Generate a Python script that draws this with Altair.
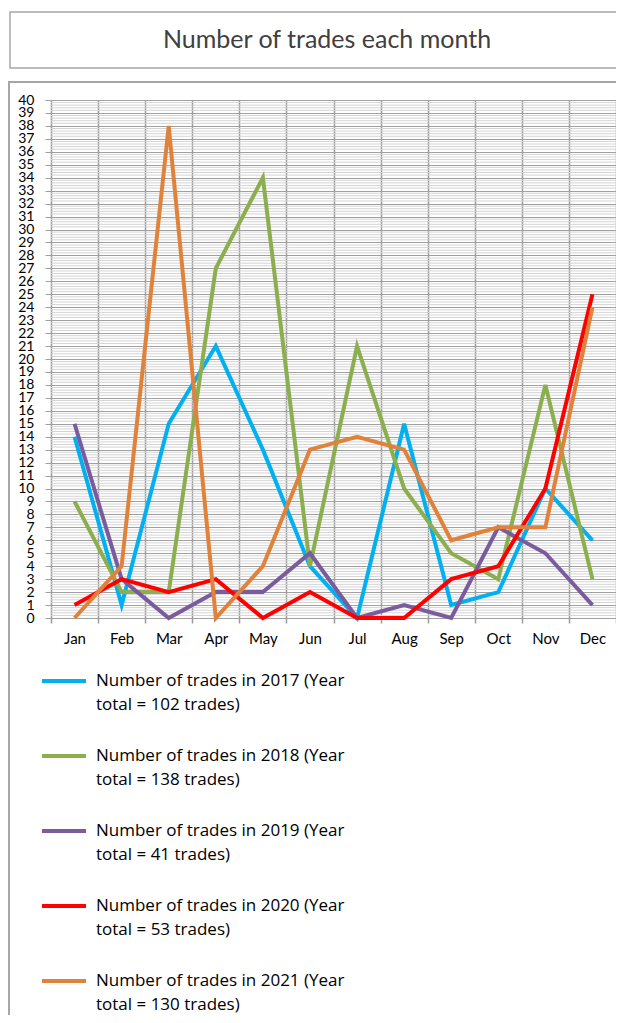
import altair as alt
import pandas as pd

months = ["Jan", "Feb", "Mar", "Apr", "May", "Jun", "Jul", "Aug", "Sep", "Oct", "Nov", "Dec"]
trades_2017 = [14, 1, 15, 21, 13, 4, 0, 15, 1, 2, 10, 6]
trades_2018 = [9, 2, 2, 27, 34, 4, 21, 10, 5, 3, 18, 3]
trades_2019 = [15, 3, 0, 2, 2, 5, 0, 1, 0, 7, 5, 1]
trades_2020 = [1, 3, 2, 3, 0, 2, 0, 0, 3, 4, 10, 25]
trades_2021 = [0, 4, 38, 0, 4, 13, 14, 13, 6, 7, 7, 24]
series_labels = [
    "Number of trades in 2017 (Year|total = 102 trades)",
    "Number of trades in 2018 (Year|total = 138 trades)",
    "Number of trades in 2019 (Year|total = 41 trades)",
    "Number of trades in 2020 (Year|total = 53 trades)",
    "Number of trades in 2021 (Year|total = 130 trades)",
]
series_colors = ["#00B0F0", "#8BAE4E", "#7A5C9E", "#FF0000", "#E0823A"]
title_text = "Number of trades each month"
y_ticks = list(range(0, 41))

rows = []
for lab, vals in zip(series_labels, [trades_2017, trades_2018, trades_2019, trades_2020, trades_2021]):
    for m, v in zip(months, vals):
        rows.append({"month": m, "trades": v, "series": lab})
df = pd.DataFrame(rows)

W, H = 565, 518
LABEL_DY = 5

x_enc = alt.X(
    "month:N", sort=months, bandPosition=0.5,
    scale=alt.Scale(type="band", domain=months, paddingInner=0, paddingOuter=0),
    axis=alt.Axis(title=None, labelAngle=0, tickBand="extent", grid=True,
                  gridColor="#9a9a9a", gridWidth=1.5, tickColor="#9a9a9a",
                  tickSize=5, tickWidth=1.5, domain=False, labelFont="Lato",
                  labelFontSize=15, labelColor="#000000", labelPadding=8 - LABEL_DY),
)
y_scale = alt.Scale(domain=[0, 40], nice=False)
y_axis = alt.Axis(title=None, values=y_ticks, grid=True, gridColor="#a0a0a0",
                  gridWidth=1, tickColor="#a0a0a0", tickSize=6, domain=False,
                  labelOverlap=False, labelFont="Lato", labelFontSize=14,
                  labelColor="#000000", labelPadding=11, labelBound=False,
                  labelOffset=-LABEL_DY)

# minor gridlines (decoration)
minor_vals = [i / 5 for i in range(0, 201) if i % 5 != 0]
minor = alt.Chart(pd.DataFrame({"v": minor_vals})).mark_rule(
    color="#d4d4d4", strokeWidth=1
).encode(y=alt.Y("v:Q", scale=y_scale, axis=y_axis))

lines = alt.Chart(df).mark_line(strokeWidth=4, strokeCap="butt", strokeJoin="miter").encode(
    x=x_enc,
    y=alt.Y("trades:Q", scale=y_scale, axis=y_axis),
    color=alt.Color("series:N", sort=series_labels,
                    scale=alt.Scale(domain=series_labels, range=series_colors),
                    legend=alt.Legend(
                        title=None, orient="none", legendX=-11, legendY=557,
                        direction="vertical", symbolType="stroke", symbolSize=1936,
                        symbolStrokeWidth=4, labelFont="Open Sans", labelFontSize=17,
                        labelColor="#000000", labelLimit=0, labelOffset=8,
                        labelBaseline="alphabetic", rowPadding=19, padding=0,
                        labelExpr="split(datum.label, '|')",
                    )),
    order=alt.Order("series:N"),
)

one = pd.DataFrame({"a": [0]})
title_box = alt.Chart(one).mark_rect(fill="white", stroke="#a6a6a6", strokeWidth=1.5, clip=False).encode(
    x=alt.value(-41), x2=alt.value(640), y=alt.value(-88), y2=alt.value(-32)
)
title_txt = alt.Chart(pd.DataFrame({"t": [title_text]})).mark_text(
    font="Lato", fontSize=25, color="#404040", align="center", baseline="middle", clip=False
).encode(text="t:N", x=alt.value(276), y=alt.value(-60))
chart_box = alt.Chart(one).mark_rect(fillOpacity=0, stroke="#a6a6a6", strokeWidth=2, clip=False).encode(
    x=alt.value(-42), x2=alt.value(640), y=alt.value(-18), y2=alt.value(1000)
)

chart = alt.layer(chart_box, title_box, title_txt, minor, lines).properties(
    width=W, height=H,
    autosize=alt.AutoSizeParams(type="none"),
    padding={"left": 43, "top": 92, "right": 0, "bottom": 397},
).configure_view(stroke="#9a9a9a", strokeWidth=1).configure(
    style={"guide-label": {"lineHeight": 24, "dy": LABEL_DY}}
)

chart.save("out.html", embed_options={"renderer": "svg", "actions": False})
